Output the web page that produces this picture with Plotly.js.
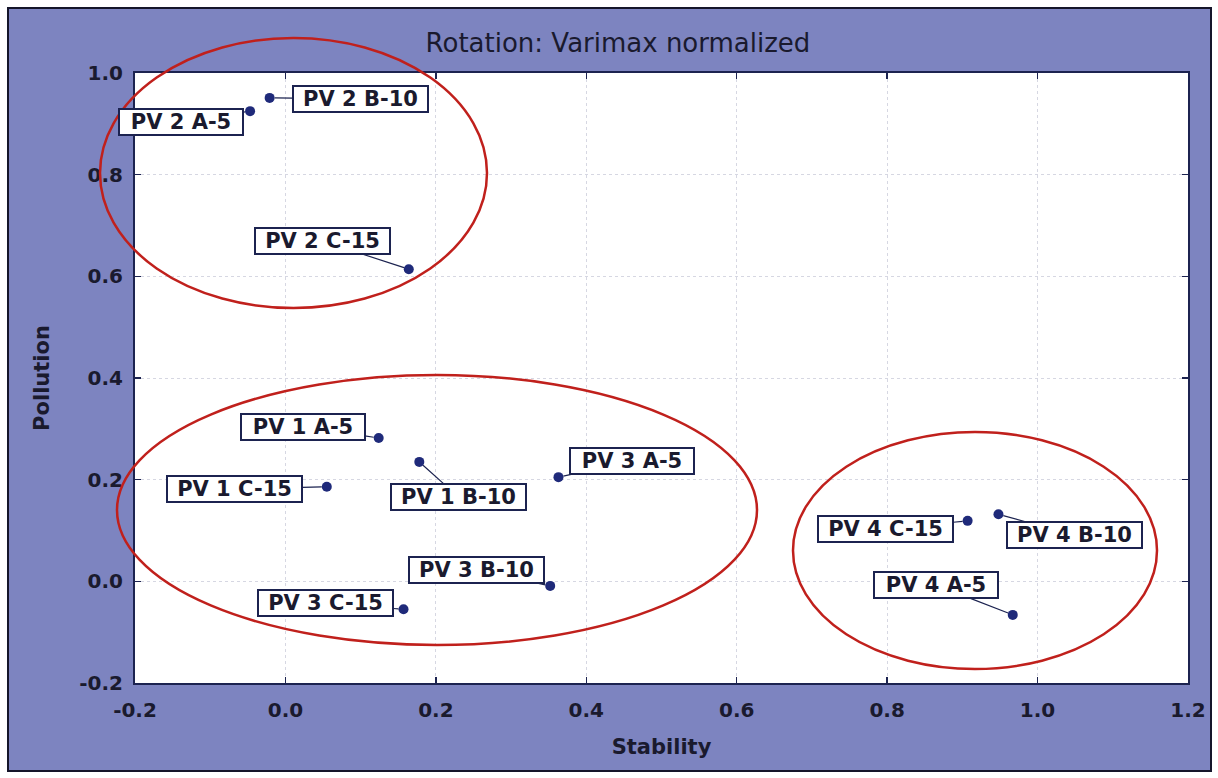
<!DOCTYPE html>
<html>
<head>
<meta charset="utf-8">
<script src="https://cdn.plot.ly/plotly-3.0.1.min.js"></script>
<style>html,body{margin:0;padding:0;background:#fff;}#chart{width:1218px;height:778px;}</style>
</head>
<body>
<div id="chart"></div>
<script>
// ---- data ----
const labels = ["PV 2 B-10","PV 2 A-5","PV 2 C-15","PV 1 A-5","PV 1 B-10","PV 1 C-15","PV 3 A-5","PV 3 B-10","PV 3 C-15","PV 4 C-15","PV 4 B-10","PV 4 A-5"];
const stability = [-0.021,-0.047,0.164,0.124,0.178,0.055,0.363,0.352,0.157,0.907,0.948,0.967];
const pollution = [0.951,0.925,0.614,0.282,0.235,0.186,0.205,-0.009,-0.055,0.119,0.132,-0.066];
const xTicks = [-0.2,0.0,0.2,0.4,0.6,0.8,1.0,1.2];
const xTickText = ["-0.2","0.0","0.2","0.4","0.6","0.8","1.0","1.2"];
const yTicks = [-0.2,0.0,0.2,0.4,0.6,0.8,1.0];
const yTickText = ["-0.2","0.0","0.2","0.4","0.6","0.8","1.0"];

// ---- label placement (pixel offsets from each point) ----
const labelOffX = [91,-69,-86,-76,39,-92,74,-74,-78,-82,76,-77];
const labelOffY = [1,11,-28,-11,35,2,-16,-16,-6,8,21,-30];

const W = 1218, H = 778;
const M = {l:135, r:30, t:73, b:95};
const pw = W - M.l - M.r, ph = H - M.t - M.b;
const px = v => (v - M.l) / pw;          // page pixel -> paper x
const py = v => (H - M.b - v) / ph;      // page pixel -> paper y

const blue = '#7d84c0';
const navy = '#1c2350';
const ink = '#1a1a2e';

const trace = {
  type: 'scatter', mode: 'markers',
  x: stability, y: pollution, text: labels,
  marker: {color: '#1f2a7a', size: 10},
  hoverinfo: 'text', showlegend: false, cliponaxis: false
};

const annotations = labels.map((t, i) => ({
  x: stability[i], y: pollution[i], xref: 'x', yref: 'y',
  text: t, showarrow: true, arrowhead: 0, arrowwidth: 1.2, arrowcolor: navy,
  ax: labelOffX[i], ay: labelOffY[i], standoff: 5,
  width: t.length >= 9 ? 131 : 120, height: 22, align: 'center', valign: 'middle',
  bgcolor: '#ffffff', bordercolor: navy, borderwidth: 2, borderpad: 1,
  font: {family: 'DejaVu Sans', size: 21, color: ink, weight: 'bold'}
}));

const ellipse = (l, r, t, b) => ({
  type: 'circle', xref: 'paper', yref: 'paper',
  x0: px(l), x1: px(r), y0: py(b), y1: py(t),
  line: {color: '#c0201c', width: 2.5}, fillcolor: 'rgba(0,0,0,0)', layer: 'above'
});

const shapes = [
  // white outer margin
  {type:'rect', xref:'paper', yref:'paper', x0: px(0), x1: px(W), y0: py(H), y1: py(0),
   line:{color:'#ffffff', width:16}, fillcolor:'rgba(0,0,0,0)', layer:'above'},
  // dark frame
  {type:'rect', xref:'paper', yref:'paper', x0: px(8), x1: px(1211), y0: py(771), y1: py(8),
   line:{color:'#15152a', width:2}, fillcolor:'rgba(0,0,0,0)', layer:'above'},
  ellipse(100, 487, 38, 308),
  ellipse(117, 757, 375, 645),
  ellipse(793, 1157, 432, 669)
];

const axisCommon = {
  showline: true, linecolor: navy, linewidth: 2, mirror: 'ticks',
  ticks: 'inside', ticklen: 6, tickwidth: 1.5, tickcolor: navy,
  showgrid: true, gridcolor: '#d6d7e2', gridwidth: 1, griddash: 'dot',
  zeroline: false, tickmode: 'array',
  tickfont: {family: 'DejaVu Sans', size: 20, color: ink, weight: 'bold'}
};

const layout = {
  width: W, height: H,
  margin: M,
  paper_bgcolor: blue, plot_bgcolor: '#ffffff',
  title: {text: 'Rotation: Varimax normalized', x: 618/W, xref: 'container', xanchor: 'center',
          y: 1 - 43/H, yref: 'container', yanchor: 'middle',
          font: {family: 'DejaVu Sans', size: 26, color: ink}},
  xaxis: Object.assign({}, axisCommon, {
    range: [-0.2, 1.2], tickvals: xTicks, ticktext: xTickText, ticklabelstandoff: 8,
    title: {text: 'Stability', standoff: 18, font: {family: 'DejaVu Sans', size: 21, color: ink, weight: 'bold'}}
  }),
  yaxis: Object.assign({}, axisCommon, {
    range: [-0.2, 1.0], tickvals: yTicks, ticktext: yTickText, ticklabelstandoff: 6,
    title: {text: 'Pollution', standoff: 24, font: {family: 'DejaVu Sans', size: 21, color: ink, weight: 'bold'}}
  }),
  shapes: shapes,
  annotations: annotations,
  showlegend: false
};

Plotly.newPlot('chart', [trace], layout, {displayModeBar: false, staticPlot: true});
</script>
</body>
</html>
